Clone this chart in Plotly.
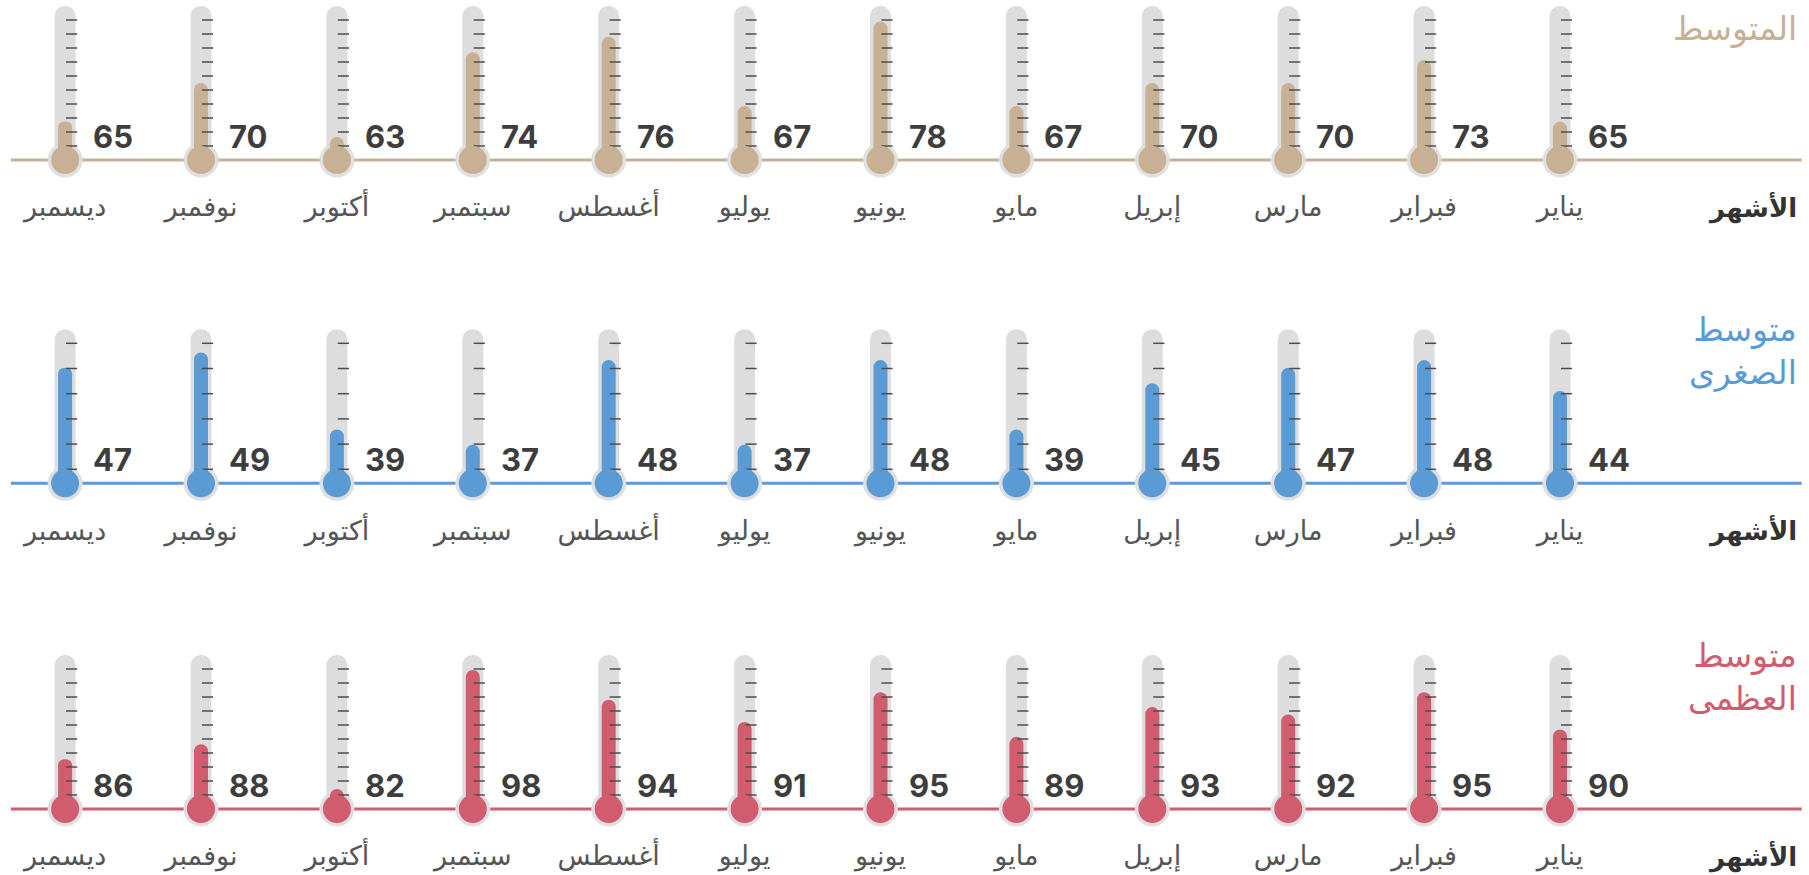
import numpy as np
import plotly.graph_objects as go

# ---- data -------------------------------------------------------------
months = ["يناير", "فبراير", "مارس", "إبريل", "مايو", "يونيو",
          "يوليو", "أغسطس", "سبتمبر", "أكتوبر", "نوفمبر", "ديسمبر"]
avg_temps = [65, 73, 70, 70, 67, 78, 67, 76, 74, 63, 70, 65]
low_temps = [44, 48, 47, 45, 39, 48, 37, 48, 37, 39, 49, 47]
high_temps = [90, 95, 92, 93, 89, 95, 91, 94, 98, 82, 88, 86]
row_titles = ["المتوسط", "متوسط<br>الصغرى", "متوسط<br>العظمى"]
axis_label = "الأشهر"

# gauge scale of each thermometer row (bottom, top) and number of gauge marks
gauge_ranges = [(60, 80), (32, 52), (79.3, 100)]
gauge_marks = [10, 6, 10]

# ---- styling ----------------------------------------------------------
W, H = 1809, 875
colors = ["#c8b094", "#5b9bd5", "#d05c6e"]
baseline_px = [160, 483.3, 809]      # vertical pixel of each row's baseline
TUBE_PX = 154                        # tube length in pixels
BELOW_PX = 20                        # room under the baseline for the bulb
STEP_PX = 135.9                      # distance between thermometers
FIRST_PX = 1560                      # centre of the first (right-most) month
TUBE_W, FILL_W = 21, 14
TUBE_GREY = "#dddddd"
AR_FONT = "DejaVu Sans"
NUM_FONT = "Inter"

idx = np.arange(len(months))
x_range = [FIRST_PX / STEP_PX, (FIRST_PX - W) / STEP_PX]
series = [avg_temps, low_temps, high_temps]

fig = go.Figure()
shapes, annotations = [], []
layout_axes = {}

for r, (vals, (lo, hi), nmarks, color, base_px) in enumerate(
        zip(series, gauge_ranges, gauge_marks, colors, baseline_px)):
    n = r + 1
    xa = "x" if n == 1 else f"x{n}"
    ya = "y" if n == 1 else f"y{n}"
    upp = (hi - lo) / TUBE_PX                       # data units per pixel

    # glass tube
    fig.add_trace(go.Bar(
        x=idx, y=[hi - lo] * len(idx), base=lo, width=TUBE_W / STEP_PX,
        marker=dict(color=TUBE_GREY, cornerradius=TUBE_W / 2, line_width=0),
        xaxis=xa, yaxis=ya, hoverinfo="skip"))
    # mercury column
    fig.add_trace(go.Bar(
        x=idx, y=[v - lo for v in vals], base=lo, width=FILL_W / STEP_PX,
        marker=dict(color=color, cornerradius=FILL_W / 2, line_width=0),
        xaxis=xa, yaxis=ya, hoverinfo="skip"))
    # gauge marks on the right side of each tube
    pad = 14 * upp
    mark_vals = np.linspace(lo + pad, hi - pad, nmarks)
    mx = np.repeat(idx - 6.5 / STEP_PX, nmarks)
    my = np.tile(mark_vals, len(idx))
    fig.add_trace(go.Scatter(
        x=mx, y=my, mode="markers",
        marker=dict(symbol="line-ew", size=8, line=dict(width=1.5, color="#4d4d4d")),
        xaxis=xa, yaxis=ya, hoverinfo="skip", cliponaxis=False))
    # bulb
    fig.add_trace(go.Scatter(
        x=idx, y=[lo] * len(idx), mode="markers",
        marker=dict(size=28, color=color, line_width=0),
        xaxis=xa, yaxis=ya, hoverinfo="skip", cliponaxis=False))

    # baseline across the row
    shapes.append(dict(type="line", xref="paper", yref=ya, x0=0.006, x1=0.996,
                       y0=lo, y1=lo, line=dict(color=color, width=3), layer="below"))
    # grey ring around every bulb
    for i in idx:
        shapes.append(dict(type="circle", xref=xa, yref=ya,
                           xsizemode="pixel", ysizemode="pixel",
                           xanchor=int(i), yanchor=lo,
                           x0=-17.5, x1=17.5, y0=-17.5, y1=17.5,
                           fillcolor="#e0e0e0", line_width=0, layer="below"))

    # value labels
    for i, v in zip(idx, vals):
        annotations.append(dict(
            x=int(i), y=lo, xref=xa, yref=ya, text=f"<b>{v}</b>", showarrow=False,
            xanchor="left", yanchor="middle", xshift=26, yshift=24,
            font=dict(family=NUM_FONT, size=31, color="#3d3d3d")))

    # row title and axis label
    annotations.append(dict(
        x=1799 / W, y=(H - (base_px - 132)) / H, xref="paper", yref="paper",
        text=row_titles[r], showarrow=False, xanchor="right", yanchor="middle",
        align="right", font=dict(family=AR_FONT, size=33, color=color)))
    annotations.append(dict(
        x=1799 / W, y=(H - (base_px + 48)) / H, xref="paper", yref="paper",
        text=f"<b>{axis_label}</b>", showarrow=False, xanchor="right",
        yanchor="middle", font=dict(family=AR_FONT, size=26, color="#333333")))

    y0 = (H - (base_px + BELOW_PX)) / H
    y1 = (H - (base_px - TUBE_PX)) / H
    layout_axes["xaxis" if n == 1 else f"xaxis{n}"] = dict(
        range=x_range, domain=[0, 1], anchor=ya, showgrid=False, zeroline=False,
        showline=False, tickmode="array", tickvals=idx, ticktext=months,
        ticks="outside", ticklen=3, tickcolor="rgba(0,0,0,0)",
        tickfont=dict(family=AR_FONT, size=27, color="#555555"), fixedrange=True)
    layout_axes["yaxis" if n == 1 else f"yaxis{n}"] = dict(
        range=[lo - BELOW_PX * upp, hi], domain=[y0, y1], anchor=xa,
        visible=False, fixedrange=True)

fig.update_layout(
    width=W, height=H, margin=dict(l=0, r=0, t=0, b=0),
    paper_bgcolor="white", plot_bgcolor="rgba(0,0,0,0)",
    barmode="overlay", showlegend=False,
    shapes=shapes, annotations=annotations, **layout_axes)

fig.write_html("out.html")
